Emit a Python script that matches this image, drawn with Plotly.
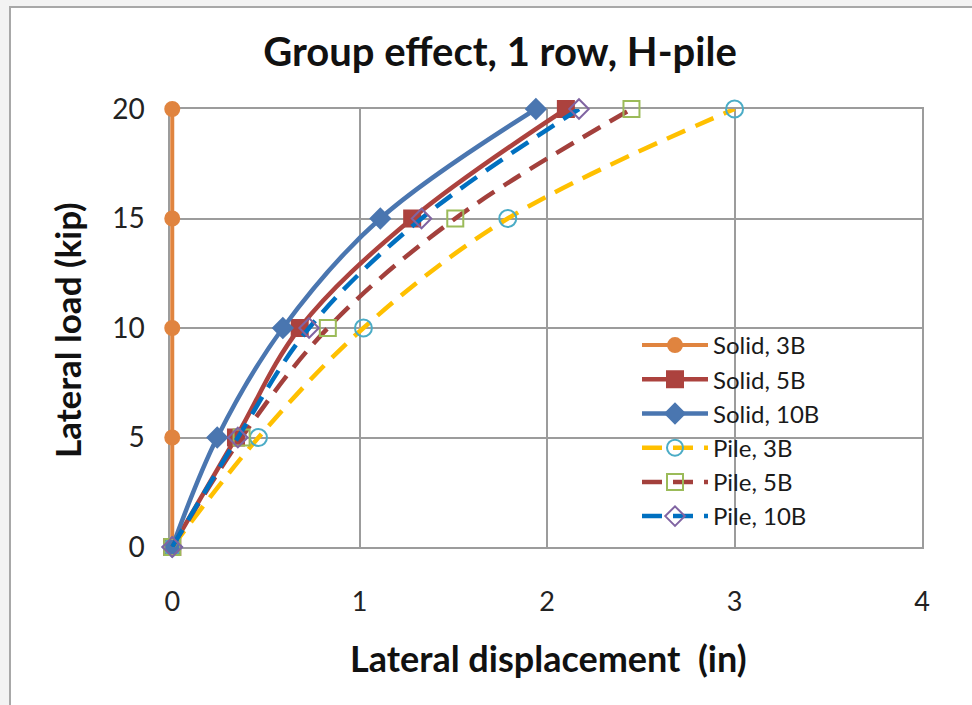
import plotly.graph_objects as go

# Data (lateral load in kip vs lateral displacement in inches)
load = [0, 5, 10, 15, 20]
solid_3b = [0, 0, 0, 0, 0]
solid_5b = [0, 0.34, 0.68, 1.28, 2.10]
solid_10b = [0, 0.24, 0.59, 1.11, 1.94]
pile_3b = [0, 0.46, 1.02, 1.79, 3.00]
pile_5b = [0, 0.37, 0.83, 1.51, 2.45]
pile_10b = [0, 0.35, 0.73, 1.33, 2.17]

series = [
    dict(name="Solid, 3B", x=solid_3b, color="#E0843F", dash="solid", width=4,
         symbol="circle", msize=14, mfill="#E0843F", medge="#E0843F"),
    dict(name="Solid, 5B", x=solid_5b, color="#AC423E", dash="solid", width=4.5,
         symbol="square", msize=16, mfill="#AC423E", medge="#AC423E"),
    dict(name="Solid, 10B", x=solid_10b, color="#4A76B0", dash="solid", width=4.5,
         symbol="diamond", msize=15, mfill="#4A76B0", medge="#4A76B0"),
    dict(name="Pile, 3B", x=pile_3b, color="#FFC000", dash="20px,11px", width=4.5,
         symbol="circle-open", msize=17, mfill="white", medge="#4BACC6"),
    dict(name="Pile, 5B", x=pile_5b, color="#A3403C", dash="20px,11px", width=4.5,
         symbol="square-open", msize=16, mfill="white", medge="#9BBB59"),
    dict(name="Pile, 10B", x=pile_10b, color="#0070C0", dash="20px,11px", width=4.5,
         symbol="diamond-open", msize=15, mfill="white", medge="#8064A2"),
]

fig = go.Figure()
for i, s in enumerate(series):
    fig.add_trace(go.Scatter(
        x=s["x"], y=load, name=s["name"], mode="lines+markers",
        line=dict(color=s["color"], width=s["width"], dash=s["dash"],
                  shape="spline", smoothing=1.0),
        marker=dict(symbol=s["symbol"], size=s["msize"],
                    color=s["medge"] if "open" in s["symbol"] else s["mfill"],
                    line=dict(color=s["medge"], width=2)),
        cliponaxis=False, legendgroup="g%d" % i,
    ))

grid = "#9c9c9c"
L, R, T, B = 170, 50, 109, 158
W, H = 972, 705
pw, ph = W - L - R, H - T - B
x_lo = -0.012

def px2paper_x(px):
    return (px - L) / pw

def px2paper_y(py):
    return (H - B - py) / ph

fig.update_layout(
    width=W, height=H,
    margin=dict(l=L, r=R, t=T, b=B),
    paper_bgcolor="#f3f3f3",
    plot_bgcolor="white",
    font=dict(family="Lato, sans-serif", color="#1a1a1a"),
    title=dict(text="<b>Group effect, 1 row, H-pile</b>", xref="container", yref="container",
               x=500 / W, y=1 - 52 / H, xanchor="center", yanchor="middle",
               font=dict(size=40, color="#111111")),
    showlegend=True,
    legend=dict(x=px2paper_x(637), y=px2paper_y(323), xanchor="left", yanchor="top",
                bgcolor="rgba(0,0,0,0)", borderwidth=0, tracegroupgap=0,
                itemwidth=66, font=dict(size=24, color="#1a1a1a")),
    shapes=[
        dict(type="rect", xref="paper", yref="paper", layer="below",
             x0=px2paper_x(10), x1=px2paper_x(990), y0=px2paper_y(720), y1=px2paper_y(7),
             fillcolor="white", line=dict(color="#a8a8a8", width=2)),
        dict(type="rect", xref="paper", yref="paper", layer="between",
             x0=px2paper_x(575), x1=px2paper_x(880), y0=px2paper_y(536), y1=px2paper_y(331),
             fillcolor="white", line=dict(width=0)),
    ],
    annotations=[
        dict(text="<b>Lateral displacement  (in)</b>", xref="paper", yref="paper",
             x=px2paper_x(548), y=px2paper_y(658), xanchor="center", yanchor="middle",
             showarrow=False, font=dict(size=36, color="#111111")),
        dict(text="<b>Lateral load (kip)</b>", xref="paper", yref="paper", textangle=-90,
             x=px2paper_x(67), y=px2paper_y(330), xanchor="center", yanchor="middle",
             showarrow=False, font=dict(size=35, color="#111111")),
    ],
)

fig.update_xaxes(range=[x_lo, 4], tickvals=[0, 1, 2, 3, 4], showgrid=True, gridcolor=grid, gridwidth=1.5,
                 zeroline=False, showline=True, mirror=True, linecolor=grid, linewidth=1.5,
                 layer="below traces",
                 ticks="", ticklabelstandoff=30, tickfont=dict(size=27, color="#222222"))
fig.update_yaxes(range=[0, 20], tickvals=[0, 5, 10, 15, 20], showgrid=True, gridcolor=grid, gridwidth=1.5,
                 zeroline=False, showline=True, mirror=True, linecolor=grid, linewidth=1.5,
                 layer="below traces",
                 ticks="", ticklabelstandoff=18, tickfont=dict(size=28, color="#222222"))

fig.write_html("out.html")
